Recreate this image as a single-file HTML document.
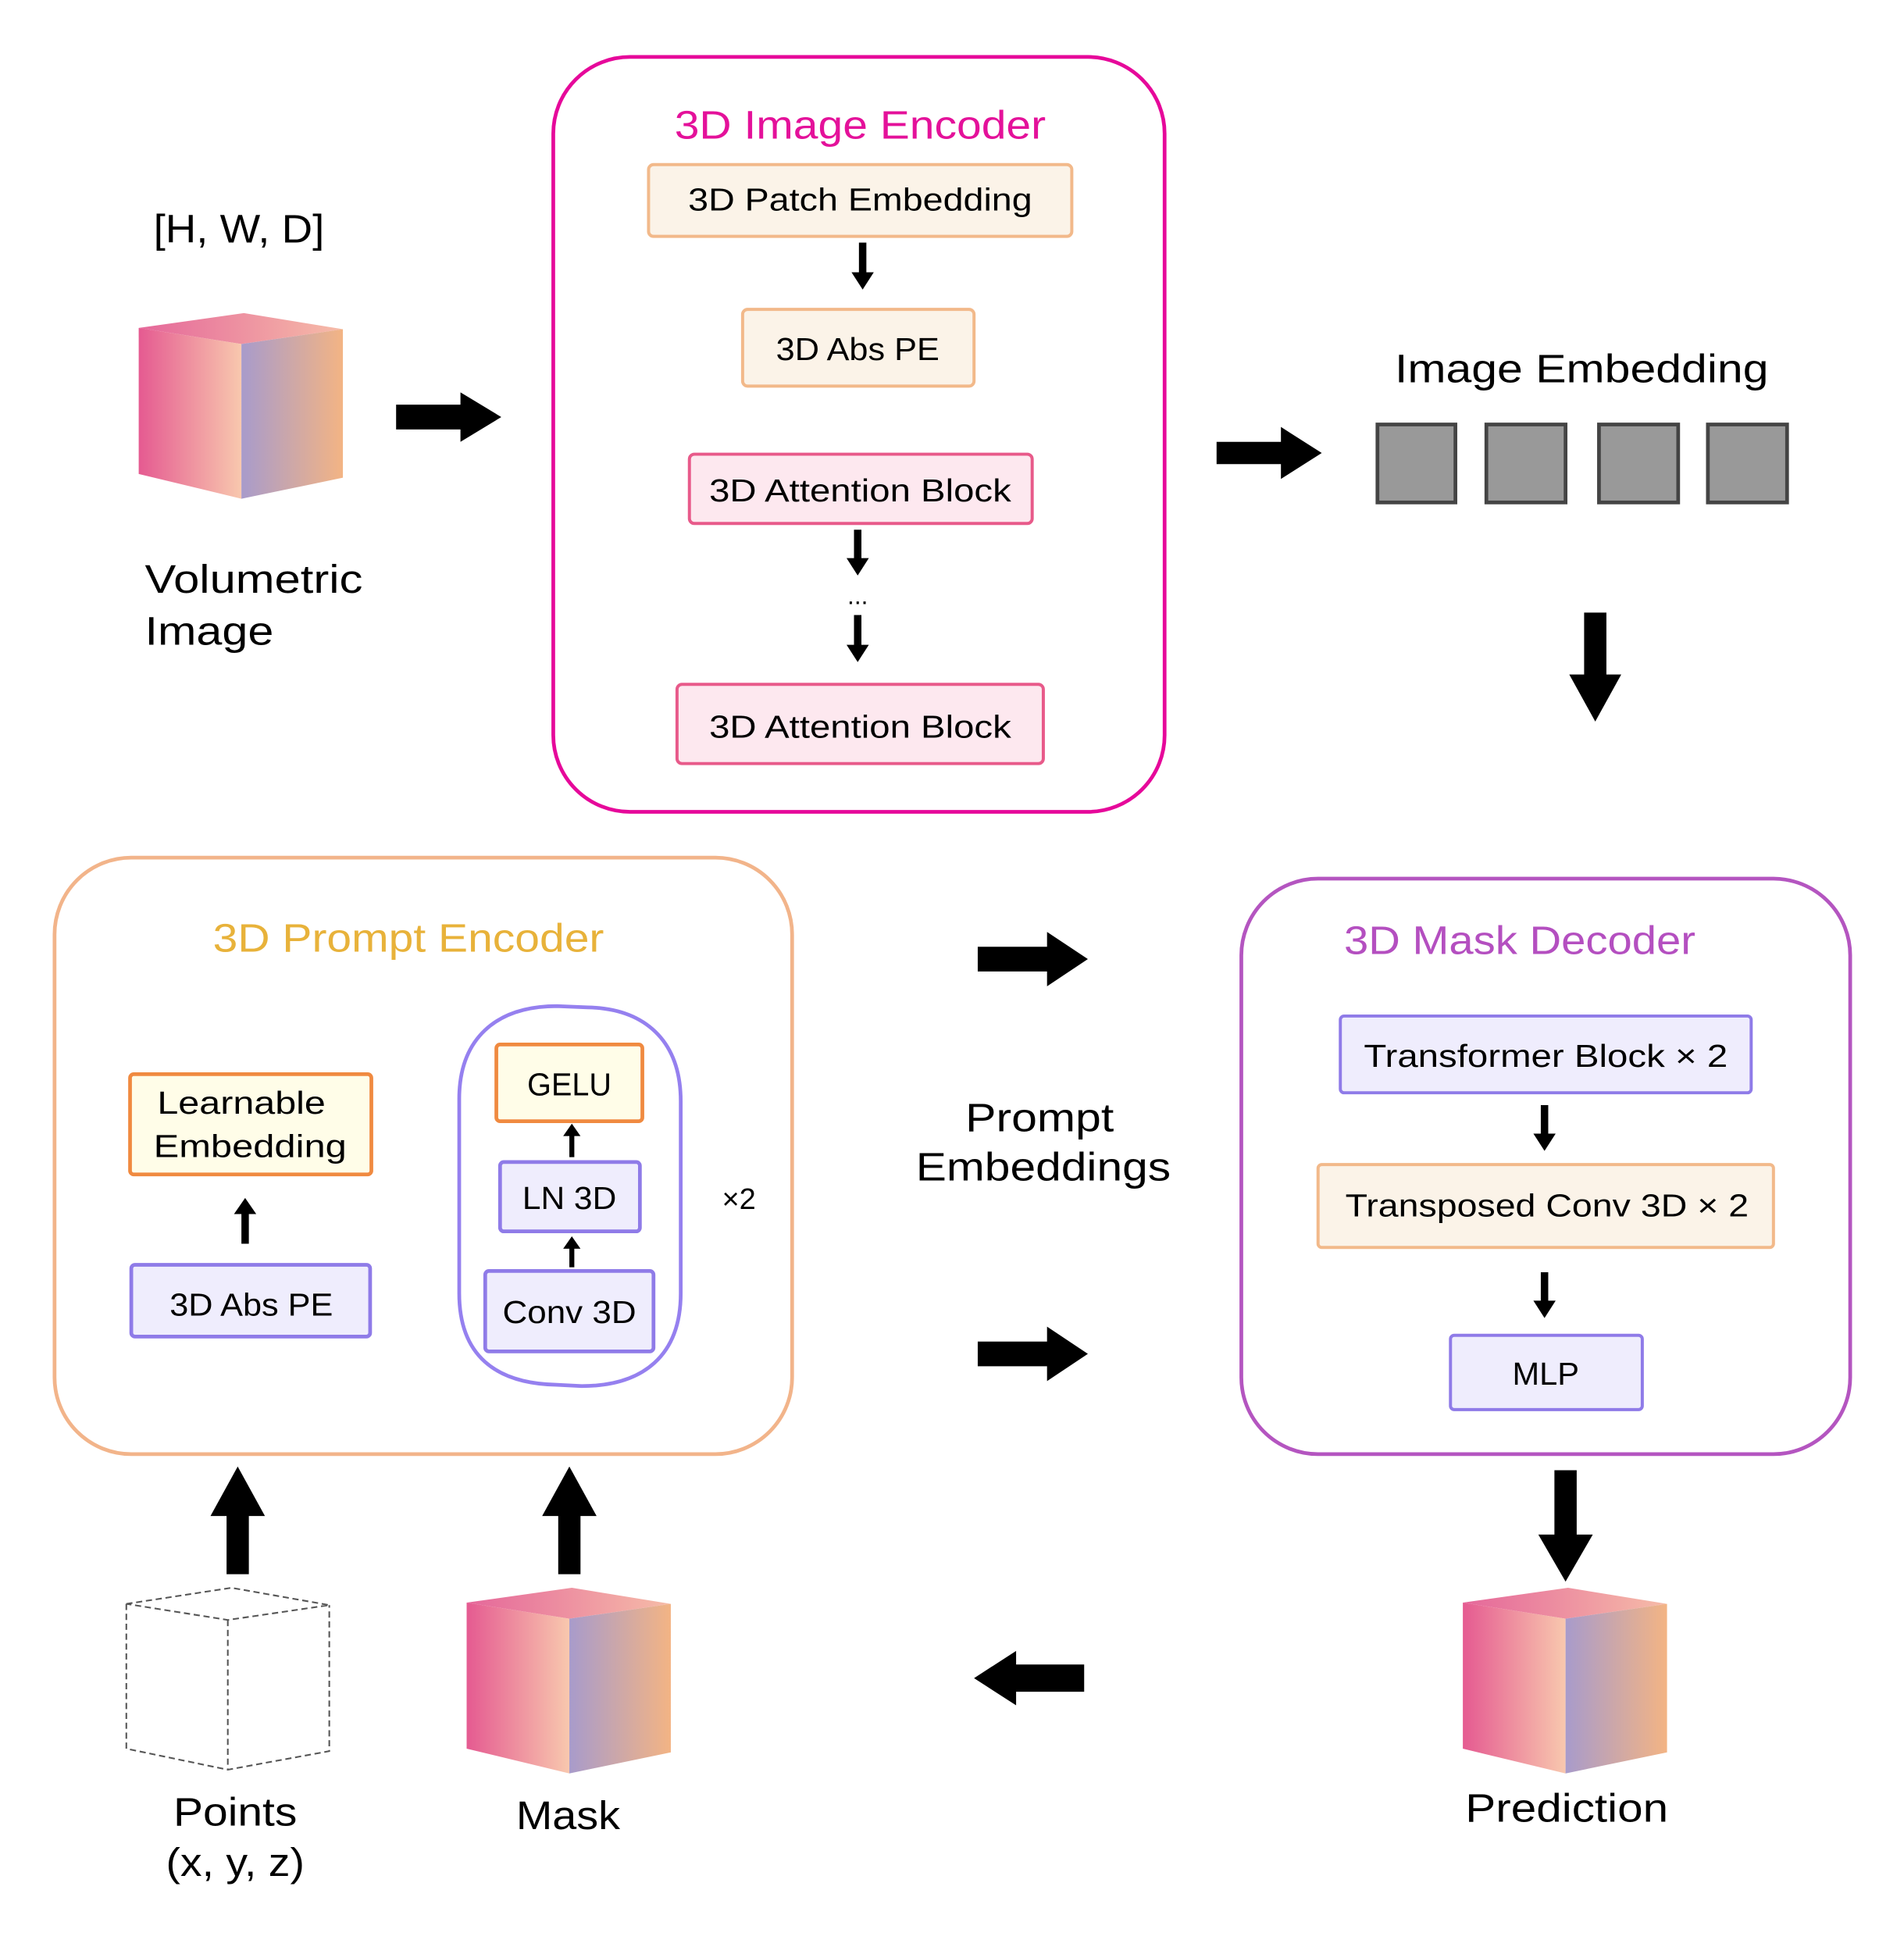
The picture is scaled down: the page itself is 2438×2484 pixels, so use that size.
<!DOCTYPE html>
<html><head><meta charset="utf-8"><style>html,body{margin:0;padding:0;background:#fff}svg{display:block}</style></head>
<body>
<svg width="2438" height="2484" viewBox="0 0 1538.4 1567.6" xmlns="http://www.w3.org/2000/svg" font-family="'Liberation Sans','DejaVu Sans',sans-serif">
<defs>
<linearGradient id="gf" x1="0" x2="1" y1="0" y2="0"><stop offset="0" stop-color="#e55a91"/><stop offset="1" stop-color="#f8c8ae"/></linearGradient>
<linearGradient id="gr" x1="0" x2="1" y1="0" y2="0"><stop offset="0" stop-color="#a89bcb"/><stop offset="1" stop-color="#f3b484"/></linearGradient>
<linearGradient id="gt" x1="0" x2="1" y1="0" y2="0"><stop offset="0" stop-color="#e5679a"/><stop offset="1" stop-color="#f6bca8"/></linearGradient>
<g id="cube">
<polygon points="0,12 85,0 165,13 83,25" fill="url(#gt)"/>
<polygon points="0,12 83,25 83,150 0,130" fill="url(#gf)"/>
<polygon points="83,25 165,13 165,133 83,150" fill="url(#gr)"/>
</g>
</defs>
<rect width="1540" height="1570" fill="#fff"/>

<rect x="447" y="46" width="494" height="610" rx="62" fill="none" stroke="#e6089a" stroke-width="3"/>
<text x="695" y="112" font-size="32" fill="#e4119a" text-anchor="middle" textLength="300" lengthAdjust="spacingAndGlyphs">3D Image Encoder</text>
<rect x="524" y="133" width="342" height="58" rx="4" fill="#fbf3e8" stroke="#f2b98a" stroke-width="2.5"/>
<text x="695" y="170" font-size="26" text-anchor="middle" textLength="278" lengthAdjust="spacingAndGlyphs">3D Patch Embedding</text>
<path d="M694,196h6v24h6l-9,14l-9,-14h6z" fill="#000"/>
<rect x="600" y="250" width="187" height="62" rx="4" fill="#fbf3e8" stroke="#f2b98a" stroke-width="2.5"/>
<text x="693" y="291" font-size="26" text-anchor="middle" textLength="132" lengthAdjust="spacingAndGlyphs">3D Abs PE</text>
<rect x="557" y="367" width="277" height="56" rx="4" fill="#fde8ef" stroke="#e85a8a" stroke-width="2.5"/>
<text x="695" y="405" font-size="26" text-anchor="middle" textLength="244" lengthAdjust="spacingAndGlyphs">3D Attention Block</text>
<path d="M690,428h6v23h6l-9,14l-9,-14h6z" fill="#000"/>
<text x="693" y="488" font-size="20" text-anchor="middle">...</text>
<path d="M690,497h6v24h6l-9,14l-9,-14h6z" fill="#000"/>
<rect x="547" y="553" width="296" height="64" rx="4" fill="#fde8ef" stroke="#e85a8a" stroke-width="2.5"/>
<text x="695" y="596" font-size="26" text-anchor="middle" textLength="244" lengthAdjust="spacingAndGlyphs">3D Attention Block</text>

<text x="193" y="196" font-size="32" text-anchor="middle" textLength="138" lengthAdjust="spacingAndGlyphs">[H, W, D]</text>
<use href="#cube" x="112" y="253"/>
<text x="117" y="479" font-size="32" textLength="176" lengthAdjust="spacingAndGlyphs">Volumetric</text>
<text x="117" y="521" font-size="32" textLength="104" lengthAdjust="spacingAndGlyphs">Image</text>
<path d="M320,327h52v-10l33,20l-33,20v-10h-52z" fill="#000"/>

<path d="M983,357h52v-12l33,21l-33,21v-12h-52z" fill="#000"/>
<text x="1278" y="309" font-size="32" text-anchor="middle" textLength="302" lengthAdjust="spacingAndGlyphs">Image Embedding</text>
<g fill="#999" stroke="#444" stroke-width="3">
<rect x="1113" y="343" width="63" height="63"/><rect x="1201" y="343" width="64" height="63"/><rect x="1292" y="343" width="64" height="63"/><rect x="1380" y="343" width="64" height="63"/>
</g>
<path d="M1280,495h18v50h12l-21,38l-21,-38h12z" fill="#000"/>

<rect x="44" y="693" width="596" height="482" rx="62" fill="none" stroke="#f2b48a" stroke-width="3"/>
<text x="330" y="769" font-size="32" fill="#e8b23a" text-anchor="middle" textLength="316" lengthAdjust="spacingAndGlyphs">3D Prompt Encoder</text>
<rect x="105" y="868" width="195" height="81" rx="3" fill="#fffde8" stroke="#f08a40" stroke-width="3"/>
<text x="195" y="900" font-size="26" text-anchor="middle" textLength="136" lengthAdjust="spacingAndGlyphs">Learnable</text>
<text x="202" y="935" font-size="26" text-anchor="middle" textLength="156" lengthAdjust="spacingAndGlyphs">Embedding</text>
<path d="M195,1005v-24h-6l9,-13l9,13h-6v24z" fill="#000"/>
<rect x="106" y="1022" width="193" height="58" rx="3" fill="#efedfd" stroke="#8f7be8" stroke-width="3"/>
<text x="203" y="1063" font-size="26" text-anchor="middle" textLength="132" lengthAdjust="spacingAndGlyphs">3D Abs PE</text>
<path d="M371,888 C371,840 400,813 450,813 L475,814 C520,815 550,840 550,890 L550,1045 C550,1095 520,1120 470,1120 L450,1119 C400,1118 371,1095 371,1045 Z" fill="none" stroke="#9580ef" stroke-width="3"/>
<rect x="401" y="844" width="118" height="62" rx="3" fill="#fffde8" stroke="#f08a40" stroke-width="3"/>
<text x="460" y="885" font-size="26" text-anchor="middle" textLength="68" lengthAdjust="spacingAndGlyphs">GELU</text>
<path d="M460,935v-17h-5l7,-10l7,10h-5v17z" fill="#000"/>
<rect x="404" y="939" width="113" height="56" rx="3" fill="#efedfd" stroke="#8f7be8" stroke-width="3"/>
<text x="460" y="977" font-size="26" text-anchor="middle" textLength="76" lengthAdjust="spacingAndGlyphs">LN 3D</text>
<path d="M460,1024v-15h-5l7,-10l7,10h-5v15z" fill="#000"/>
<rect x="392" y="1027" width="136" height="65" rx="3" fill="#efedfd" stroke="#8f7be8" stroke-width="3"/>
<text x="460" y="1069" font-size="26" text-anchor="middle" textLength="108" lengthAdjust="spacingAndGlyphs">Conv 3D</text>
<text x="597" y="977" font-size="24" text-anchor="middle">×2</text>

<path d="M183,1272v-47h-13l22,-40l22,40h-13v47z" fill="#000"/>
<path d="M451,1272v-47h-13l22,-40l22,40h-13v47z" fill="#000"/>
<g fill="none" stroke="#555" stroke-width="1.3" stroke-dasharray="5,3">
<polygon points="102,1296 187,1283 266,1297 184,1309"/>
<polyline points="102,1296 102,1413 184,1430 266,1415 266,1297"/>
<line x1="184" y1="1309" x2="184" y2="1430"/>
</g>
<use href="#cube" x="377" y="1283"/>
<text x="190" y="1475" font-size="32" text-anchor="middle" textLength="100" lengthAdjust="spacingAndGlyphs">Points</text>
<text x="190" y="1516" font-size="32" text-anchor="middle" textLength="112" lengthAdjust="spacingAndGlyphs">(x, y, z)</text>
<text x="459" y="1478" font-size="32" text-anchor="middle" textLength="84" lengthAdjust="spacingAndGlyphs">Mask</text>

<path d="M790,765h56v-12l33,22l-33,22v-12h-56z" fill="#000"/>
<path d="M790,1084h56v-12l33,22l-33,22v-12h-56z" fill="#000"/>
<text x="840" y="914" font-size="32" text-anchor="middle" textLength="120" lengthAdjust="spacingAndGlyphs">Prompt</text>
<text x="843" y="954" font-size="32" text-anchor="middle" textLength="206" lengthAdjust="spacingAndGlyphs">Embeddings</text>
<path d="M876,1345h-55v-11l-34,22l34,22v-11h55z" fill="#000"/>

<rect x="1003" y="710" width="492" height="465" rx="62" fill="none" stroke="#b455c0" stroke-width="3"/>
<text x="1228" y="771" font-size="32" fill="#b44fc0" text-anchor="middle" textLength="284" lengthAdjust="spacingAndGlyphs">3D Mask Decoder</text>
<rect x="1083" y="821" width="332" height="62" rx="3" fill="#efedfd" stroke="#8f7be8" stroke-width="2.5"/>
<text x="1249" y="862" font-size="26" text-anchor="middle" textLength="294" lengthAdjust="spacingAndGlyphs">Transformer  Block × 2</text>
<path d="M1245,893h6v23h6l-9,14l-9,-14h6z" fill="#000"/>
<rect x="1065" y="941" width="368" height="67" rx="3" fill="#fbf3e8" stroke="#f2b98a" stroke-width="2.5"/>
<text x="1250" y="983" font-size="26" text-anchor="middle" textLength="326" lengthAdjust="spacingAndGlyphs">Transposed  Conv 3D × 2</text>
<path d="M1245,1028h6v23h6l-9,14l-9,-14h6z" fill="#000"/>
<rect x="1172" y="1079" width="155" height="60" rx="3" fill="#efedfd" stroke="#8f7be8" stroke-width="2.5"/>
<text x="1249" y="1119" font-size="26" text-anchor="middle" textLength="54" lengthAdjust="spacingAndGlyphs">MLP</text>
<path d="M1256,1188h18v52h13l-22,38l-22,-38h13z" fill="#000"/>
<use href="#cube" x="1182" y="1283"/>
<text x="1266" y="1472" font-size="32" text-anchor="middle" textLength="164" lengthAdjust="spacingAndGlyphs">Prediction</text>
</svg>
</body></html>
